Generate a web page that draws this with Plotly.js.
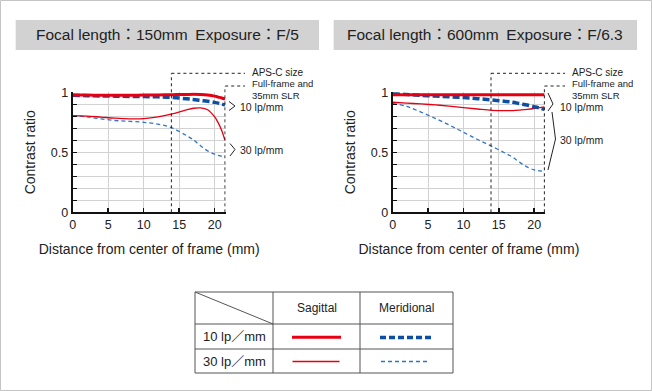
<!DOCTYPE html>
<html>
<head>
<meta charset="utf-8">
<script src="https://cdn.plot.ly/plotly-3.0.1.min.js"></script>
<style>html,body{margin:0;padding:0;background:#fff;}#chart{width:652px;height:391px;}</style>
</head>
<body>
<div id="chart"></div>
<script>
// ---------- data ----------
const X = [0, 2, 4, 6, 8, 10, 12, 14, 16, 17, 18, 19, 20, 20.5, 21, 21.45];

// Focal length 150mm, F/5
const L_S10 = [0.978, 0.977, 0.976, 0.976, 0.976, 0.977, 0.978, 0.980, 0.982, 0.983, 0.982, 0.978, 0.968, 0.960, 0.952, 0.943];
const L_M10 = [0.975, 0.972, 0.970, 0.968, 0.966, 0.964, 0.962, 0.957, 0.946, 0.940, 0.932, 0.925, 0.916, 0.910, 0.902, 0.894];
const L_S30 = [0.806, 0.802, 0.793, 0.784, 0.779, 0.781, 0.795, 0.820, 0.853, 0.867, 0.870, 0.855, 0.795, 0.745, 0.680, 0.600];
const L_M30 = [0.806, 0.795, 0.778, 0.765, 0.758, 0.750, 0.735, 0.703, 0.640, 0.603, 0.555, 0.512, 0.484, 0.474, 0.467, 0.464];

// Focal length 600mm, F/6.3
const R_S10 = [0.980, 0.980, 0.980, 0.980, 0.980, 0.980, 0.980, 0.980, 0.980, 0.980, 0.980, 0.980, 0.980, 0.980, 0.980, 0.980];
const R_M10 = [0.990, 0.982, 0.975, 0.969, 0.963, 0.956, 0.947, 0.936, 0.924, 0.917, 0.905, 0.894, 0.880, 0.873, 0.865, 0.858];
const R_S30 = [0.917, 0.910, 0.903, 0.895, 0.885, 0.873, 0.861, 0.850, 0.847, 0.848, 0.852, 0.857, 0.865, 0.870, 0.874, 0.878];
const R_M30 = [0.908, 0.882, 0.835, 0.783, 0.727, 0.667, 0.607, 0.550, 0.490, 0.458, 0.415, 0.378, 0.353, 0.347, 0.344, 0.344];

const APS_C = [13.9];      // APS-C size limit (mm)
const FULL_FRAME = [21.45]; // full-frame limit (mm)

const TITLES = ['Focal length：150mm\u2002Exposure：F/5', 'Focal length：600mm\u2002Exposure：F/6.3'];
const X_TICKS = [0, 5, 10, 15, 20];
const Y_TICKS = [0, 0.1, 0.2, 0.3, 0.4, 0.5, 0.6, 0.7, 0.8, 0.9, 1];
const Y_TICKTEXT = ['0', '', '', '', '', '0.5', '', '', '', '', '1'];
const ROW_LABELS = ['10 lp／mm', '30 lp／mm'];
const COL_LABELS = ['Sagittal', 'Meridional'];

// ---------- style ----------
const W = 652, H = 391;
const px = v => v / W;
const py = v => 1 - v / H;
const FONT = 'Liberation Sans, Arial, Noto Sans CJK JP, sans-serif';
const RED = '#e60012';
const BLUE_THICK = '#0b4ea2';
const BLUE_THIN = '#2f74cc';
const TXT = '#222';

function traces(xa, ya, s10, m10, s30, m30) {
  return [
    {x: X, y: m30, xaxis: xa, yaxis: ya, mode: 'lines', line: {color: BLUE_THIN, width: 1.3, dash: '4px,3px', shape: 'spline'}},
    {x: X, y: s30, xaxis: xa, yaxis: ya, mode: 'lines', line: {color: RED, width: 1.3, shape: 'spline'}},
    {x: X, y: m10, xaxis: xa, yaxis: ya, mode: 'lines', line: {color: BLUE_THICK, width: 3.5, dash: '7px,3px', shape: 'spline'}},
    {x: X, y: s10, xaxis: xa, yaxis: ya, mode: 'lines', line: {color: RED, width: 3, shape: 'spline'}}
  ];
}

const data = [].concat(
  traces('x', 'y', L_S10, L_M10, L_S30, L_M30),
  traces('x2', 'y2', R_S10, R_M10, R_S30, R_M30)
);

function xaxisDef(domain, anchor) {
  return {
    domain: domain, anchor: anchor, range: [0, 21.55],
    tickvals: X_TICKS, ticks: 'inside', ticklen: 4, tickwidth: 1.5, tickcolor: '#111',
    showgrid: true, gridcolor: '#d2d2d2', gridwidth: 1,
    showline: true, linecolor: '#111', linewidth: 2, zeroline: false,
    tickfont: {family: FONT, size: 12.5, color: TXT},
    title: {text: 'Distance from center of frame (mm)', font: {family: FONT, size: 14, color: TXT}, standoff: 13},
    fixedrange: true
  };
}
function yaxisDef(anchor) {
  return {
    domain: [py(212.3), py(92.3)], anchor: anchor, range: [0, 1],
    tickvals: Y_TICKS, ticktext: Y_TICKTEXT, ticks: 'inside', ticklen: 4, tickwidth: 1.5, tickcolor: '#111',
    showgrid: true, gridcolor: '#d2d2d2', gridwidth: 1,
    showline: true, linecolor: '#111', linewidth: 2, zeroline: false,
    tickfont: {family: FONT, size: 12.5, color: TXT},
    title: {text: 'Contrast ratio', font: {family: FONT, size: 14, color: TXT}, standoff: 12},
    fixedrange: true
  };
}

const shapes = [];
const annotations = [];
const DOT = {color: '#222', width: 1, dash: 'dot'};

// outer frame
shapes.push({type: 'rect', xref: 'paper', yref: 'paper', x0: px(0.5), x1: px(651.5), y0: py(390.5), y1: py(0.5), line: {color: '#c4c4c4', width: 1}});

// panel definitions (pixel positions of decorations)
const panels = [
  {xa: 'x', box: [15.7, 319], right: 225.7, labelX: 250, lineEnd: 245, title: TITLES[0]},
  {xa: 'x2', box: [333.7, 637], right: 545.1, labelX: 570, lineEnd: 565, title: TITLES[1]}
];

panels.forEach((p, i) => {
  // title box
  shapes.push({type: 'rect', xref: 'paper', yref: 'paper', x0: px(p.box[0]), x1: px(p.box[1]), y0: py(50), y1: py(20), fillcolor: '#d2d2d2', line: {width: 0}, layer: 'below'});
  annotations.push({xref: 'paper', yref: 'paper', x: px((p.box[0] + p.box[1]) / 2), y: py(35), text: p.title, showarrow: false, xanchor: 'center', yanchor: 'middle', font: {family: FONT, size: 15.5, color: TXT}});
  // APS-C limit
  shapes.push({type: 'line', xref: p.xa, yref: 'paper', x0: APS_C[0], x1: APS_C[0], y0: py(212.3), y1: py(73.3), line: DOT});
  shapes.push({type: 'line', xref: p.xa, yref: 'paper', x0: APS_C[0], x1: 40, y0: py(73.3), y1: py(73.3), line: DOT});
  shapes.push({type: 'line', xref: 'paper', yref: 'paper', x0: px(p.right), x1: px(p.lineEnd), y0: py(73.3), y1: py(73.3), line: DOT});
  // full-frame limit
  shapes.push({type: 'line', xref: p.xa, yref: 'paper', x0: FULL_FRAME[0], x1: FULL_FRAME[0], y0: py(212.3), y1: py(86), line: DOT});
  shapes.push({type: 'line', xref: 'paper', yref: 'paper', x0: px(p.right - 0.5), x1: px(p.lineEnd), y0: py(86), y1: py(86), line: DOT});
  // labels
  annotations.push({xref: 'paper', yref: 'paper', x: px(p.labelX), y: py(72.7), text: 'APS-C size', showarrow: false, xanchor: 'left', yanchor: 'middle', font: {family: FONT, size: 10, color: TXT}});
  annotations.push({xref: 'paper', yref: 'paper', x: px(p.labelX), y: py(90), text: 'Full-frame and<br>35mm SLR', showarrow: false, xanchor: 'left', yanchor: 'middle', align: 'left', font: {family: FONT, size: 9.5, color: TXT}});
});

// brackets + frequency labels
function path(pts) {
  return pts.map((q, k) => (k ? 'L' : 'M') + px(q[0]).toFixed(5) + ',' + py(q[1]).toFixed(5)).join(' ');
}
const BR = {color: '#222', width: 1};
// left chart
shapes.push({type: 'path', xref: 'paper', yref: 'paper', path: path([[229, 101.5], [235, 106], [229, 110.5]]), line: BR});
shapes.push({type: 'path', xref: 'paper', yref: 'paper', path: path([[230, 143.5], [235, 149.5], [230, 156]]), line: BR});
annotations.push({xref: 'paper', yref: 'paper', x: px(238), y: py(107), text: '10 lp/mm', showarrow: false, xanchor: 'left', yanchor: 'middle', font: {family: FONT, size: 10.5, color: TXT}});
annotations.push({xref: 'paper', yref: 'paper', x: px(238), y: py(150), text: '30 lp/mm', showarrow: false, xanchor: 'left', yanchor: 'middle', font: {family: FONT, size: 10.5, color: TXT}});
// right chart
shapes.push({type: 'path', xref: 'paper', yref: 'paper', path: path([[548, 93], [553, 104], [548, 111]]), line: BR});
shapes.push({type: 'path', xref: 'paper', yref: 'paper', path: path([[552, 112], [555.5, 139], [548, 170]]), line: BR});
annotations.push({xref: 'paper', yref: 'paper', x: px(558), y: py(107), text: '10 lp/mm', showarrow: false, xanchor: 'left', yanchor: 'middle', font: {family: FONT, size: 10.5, color: TXT}});
annotations.push({xref: 'paper', yref: 'paper', x: px(558), y: py(140), text: '30 lp/mm', showarrow: false, xanchor: 'left', yanchor: 'middle', font: {family: FONT, size: 10.5, color: TXT}});

// ---------- legend table ----------
const TL = 195, TR = 453, C1 = 273, C2 = 360, R0 = 292, R1 = 324, R2 = 349, R3 = 373;
const TB = {color: '#555', width: 1};
shapes.push({type: 'rect', xref: 'paper', yref: 'paper', x0: px(TL), x1: px(TR), y0: py(R3), y1: py(R0), line: TB});
[C1, C2].forEach(c => shapes.push({type: 'line', xref: 'paper', yref: 'paper', x0: px(c), x1: px(c), y0: py(R3), y1: py(R0), line: TB}));
[R1, R2].forEach(r => shapes.push({type: 'line', xref: 'paper', yref: 'paper', x0: px(TL), x1: px(TR), y0: py(r), y1: py(r), line: TB}));
shapes.push({type: 'line', xref: 'paper', yref: 'paper', x0: px(TL), x1: px(C1), y0: py(R0), y1: py(R1), line: TB});
annotations.push({xref: 'paper', yref: 'paper', x: px((C1 + C2) / 2), y: py(308), text: COL_LABELS[0], showarrow: false, xanchor: 'center', yanchor: 'middle', font: {family: FONT, size: 12, color: TXT}});
annotations.push({xref: 'paper', yref: 'paper', x: px((C2 + TR) / 2), y: py(308), text: COL_LABELS[1], showarrow: false, xanchor: 'center', yanchor: 'middle', font: {family: FONT, size: 12, color: TXT}});
annotations.push({xref: 'paper', yref: 'paper', x: px((TL + C1) / 2), y: py(336.5), text: ROW_LABELS[0], showarrow: false, xanchor: 'center', yanchor: 'middle', font: {family: FONT, size: 13, color: TXT}});
annotations.push({xref: 'paper', yref: 'paper', x: px((TL + C1) / 2), y: py(361), text: ROW_LABELS[1], showarrow: false, xanchor: 'center', yanchor: 'middle', font: {family: FONT, size: 13, color: TXT}});
// sample lines
shapes.push({type: 'line', xref: 'paper', yref: 'paper', x0: px(292), x1: px(341), y0: py(337.3), y1: py(337.3), line: {color: RED, width: 3}});
shapes.push({type: 'line', xref: 'paper', yref: 'paper', x0: px(292.5), x1: px(339.5), y0: py(361.5), y1: py(361.5), line: {color: RED, width: 1.3}});
shapes.push({type: 'line', xref: 'paper', yref: 'paper', x0: px(380), x1: px(431), y0: py(337.5), y1: py(337.5), line: {color: BLUE_THICK, width: 3.5, dash: '6px,3px'}});
shapes.push({type: 'line', xref: 'paper', yref: 'paper', x0: px(381), x1: px(430), y0: py(361.5), y1: py(361.5), line: {color: BLUE_THIN, width: 1.3, dash: '4px,3px'}});

const layout = {
  width: W, height: H,
  margin: {l: 0, r: 0, t: 0, b: 0},
  paper_bgcolor: '#fff', plot_bgcolor: '#fff',
  showlegend: false, hovermode: false,
  font: {family: FONT, color: TXT},
  xaxis: xaxisDef([px(72.7), px(225.7)], 'y'),
  yaxis: yaxisDef('x'),
  xaxis2: xaxisDef([px(392.7), px(545.1)], 'y2'),
  yaxis2: yaxisDef('x2'),
  shapes: shapes,
  annotations: annotations
};

Plotly.newPlot('chart', data, layout, {displayModeBar: false, staticPlot: true});
</script>
</body>
</html>
